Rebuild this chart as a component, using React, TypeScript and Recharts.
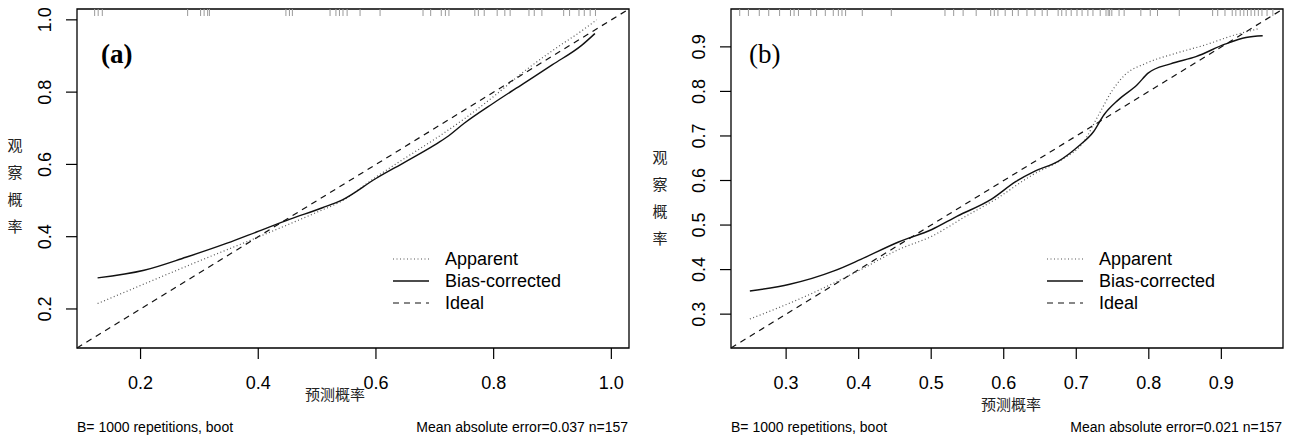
import React from "react";
import {
  ComposedChart,
  Line,
  Scatter,
  XAxis,
  YAxis,
  ReferenceLine,
  ReferenceArea
} from "recharts";

// =========================
// DATA
// =========================

// panel (a)
const aDomain = [0.092, 1.03];
const aTicks = [0.2, 0.4, 0.6, 0.8, 1.0];
const aApparentX = [0.127, 0.2, 0.3, 0.4, 0.45, 0.5, 0.54, 0.6, 0.65, 0.7, 0.75, 0.8, 0.85, 0.9, 0.95, 0.975];
const aApparentY = [0.215, 0.265, 0.333, 0.399, 0.433, 0.468, 0.497, 0.565, 0.618, 0.67, 0.726, 0.788, 0.855, 0.915, 0.97, 1.0];
const aBiasX = [0.127, 0.206, 0.277, 0.347, 0.397, 0.453, 0.509, 0.543, 0.6, 0.65, 0.7, 0.72, 0.75, 0.8, 0.85, 0.9, 0.95, 0.972];
const aBiasY = [0.286, 0.307, 0.343, 0.382, 0.413, 0.448, 0.48, 0.502, 0.561, 0.607, 0.654, 0.675, 0.714, 0.77, 0.823, 0.876, 0.93, 0.962];
const aRug = [
  0.122, 0.128, 0.135, 0.28, 0.302, 0.308, 0.314, 0.317, 0.447, 0.453, 0.458,
  0.522, 0.532, 0.538, 0.544, 0.551, 0.573, 0.607, 0.68, 0.693, 0.711, 0.718,
  0.724, 0.768, 0.774, 0.784, 0.806, 0.819, 0.828, 0.86, 0.869, 0.882, 0.919,
  0.929, 0.945, 0.954, 0.964, 0.973
];
const aNote = "Mean absolute error=0.037 n=157";

// panel (b)
const bDomain = [0.224, 0.985];
const bTicks = [0.3, 0.4, 0.5, 0.6, 0.7, 0.8, 0.9];
const bApparentX = [0.25, 0.328, 0.403, 0.455, 0.501, 0.548, 0.588, 0.64, 0.68, 0.709, 0.732, 0.75, 0.767, 0.796, 0.836, 0.877, 0.917, 0.952];
const bApparentY = [0.289, 0.341, 0.4, 0.445, 0.475, 0.52, 0.557, 0.613, 0.647, 0.684, 0.751, 0.803, 0.837, 0.863, 0.885, 0.904, 0.926, 0.941];
const bBiasX = [0.25, 0.305, 0.366, 0.403, 0.455, 0.501, 0.536, 0.582, 0.617, 0.643, 0.675, 0.703, 0.724, 0.738, 0.758, 0.784, 0.799, 0.83, 0.865, 0.905, 0.934, 0.957];
const bBiasY = [0.352, 0.367, 0.397, 0.423, 0.462, 0.49, 0.52, 0.557, 0.598, 0.621, 0.643, 0.677, 0.71, 0.747, 0.781, 0.815, 0.841, 0.862, 0.878, 0.906, 0.921, 0.925];
const bRug = [
  0.236, 0.248, 0.263, 0.276, 0.291, 0.306, 0.311, 0.317, 0.334, 0.342, 0.354,
  0.365, 0.372, 0.377, 0.382, 0.405, 0.445, 0.519, 0.531, 0.544, 0.562, 0.582,
  0.587, 0.592, 0.602, 0.612, 0.62, 0.632, 0.643, 0.653, 0.66, 0.675, 0.68,
  0.686, 0.693, 0.701, 0.708, 0.716, 0.723, 0.733, 0.741, 0.744, 0.746, 0.749,
  0.759, 0.766, 0.789, 0.802, 0.812, 0.842, 0.888, 0.895, 0.905, 0.915, 0.92,
  0.926, 0.931, 0.936, 0.941, 0.946, 0.951, 0.956, 0.963, 0.971
];
const bNote = "Mean absolute error=0.021 n=157";

const legendLabels = ["Apparent", "Bias-corrected", "Ideal"];
const yTitle = ["观", "察", "概", "率"];
const xTitle = "预测概率";
const bootNote = "B= 1000 repetitions, boot";

// =========================
// STYLE
// =========================

const FONT = '"Liberation Sans", Arial, Helvetica, sans-serif';
const CJK = '"Noto Sans CJK SC", sans-serif';
const SERIF = '"Liberation Serif", "Times New Roman", serif';
const H = 439;

const DOTTED = "1 2.5";
const DASHED = "6 5";

const zip = (xs: number[], ys: number[]) => xs.map((x, i) => ({ x, y: ys[i] }));

const XTick = (p: any) => (
  <text
    x={p.x}
    y={p.y + 24}
    textAnchor="middle"
    dominantBaseline="central"
    fontSize={18}
    fontFamily={FONT}
    fill="#000"
  >
    {Number(p.payload.value).toFixed(1)}
  </text>
);

const YTick = (p: any) => (
  <text
    x={p.x - 21}
    y={p.y}
    transform={`rotate(-90, ${p.x - 21}, ${p.y})`}
    textAnchor="middle"
    dominantBaseline="central"
    fontSize={18}
    fontFamily={FONT}
    fill="#000"
  >
    {Number(p.payload.value).toFixed(1)}
  </text>
);

const RugMark = (p: any) => (
  <line x1={p.cx} x2={p.cx} y1={p.cy} y2={p.cy + 7} stroke="#9a9a9a" strokeWidth={1} />
);

interface Layout {
  left: number;
  width: number;
  plotLeft: number;
  plotRight: number;
  legendX: number;
  label: string;
  labelX: number;
  labelBold: boolean;
  yTitleX: number;
  yTitleTop: number;
  xTitleX: number;
  xTitleY: number;
}

interface PanelProps {
  layout: Layout;
  domain: number[];
  ticks: number[];
  apparent: { x: number; y: number }[];
  bias: { x: number; y: number }[];
  rug: number[];
  note: string;
}

function Panel({ layout, domain, ticks, apparent, bias, rug, note }: PanelProps) {
  const [lo, hi] = domain;
  const rugData = rug.map((v) => ({ x: v, y: hi }));
  const L = layout;
  const legendRows = [259, 281, 303];
  const legendDash = [DOTTED, undefined, DASHED];
  const legendColor = ["#555", "#111", "#111"];

  return (
    <div style={{ position: "absolute", left: L.left, top: 0, width: L.width, height: H }}>
      <ComposedChart
        width={L.width}
        height={H}
        margin={{ top: 9, right: L.width - L.plotRight, bottom: 51, left: L.plotLeft - 60 }}
      >
        <XAxis
          type="number"
          dataKey="x"
          domain={domain}
          ticks={ticks}
          interval={0}
          allowDataOverflow
          axisLine={false}
          tickSize={11}
          tickMargin={0}
          tickLine={{ stroke: "#000", strokeWidth: 1.2 }}
          tick={XTick}
          height={40}
        />
        <YAxis
          type="number"
          dataKey="y"
          domain={domain}
          ticks={ticks}
          interval={0}
          allowDataOverflow
          axisLine={false}
          tickSize={11}
          tickMargin={0}
          tickLine={{ stroke: "#000", strokeWidth: 1.2 }}
          tick={YTick}
          width={60}
        />

        {/* frame */}
        <ReferenceArea
          x1={lo}
          x2={hi}
          y1={lo}
          y2={hi}
          fill="none"
          fillOpacity={0}
          stroke="#000"
          strokeWidth={1.3}
          ifOverflow="visible"
        />

        {/* y = x ideal */}
        <ReferenceLine
          segment={[
            { x: lo, y: lo },
            { x: hi, y: hi }
          ]}
          stroke="#111"
          strokeWidth={1.2}
          strokeDasharray={DASHED}
        />

        <Line
          data={apparent}
          dataKey="y"
          type="monotone"
          stroke="#555"
          strokeWidth={1.2}
          strokeDasharray={DOTTED}
          dot={false}
          activeDot={false}
          isAnimationActive={false}
        />
        <Line
          data={bias}
          dataKey="y"
          type="monotone"
          stroke="#111"
          strokeWidth={1.4}
          dot={false}
          activeDot={false}
          isAnimationActive={false}
        />

        {/* rug of predicted probabilities */}
        <Scatter data={rugData} dataKey="y" shape={RugMark} isAnimationActive={false} />
      </ComposedChart>

      <svg
        width={L.width}
        height={H}
        style={{ position: "absolute", left: 0, top: 0, pointerEvents: "none" }}
      >
        <text
          x={L.labelX}
          y={63}
          fontFamily={SERIF}
          fontSize={27}
          fontWeight={L.labelBold ? "bold" : "normal"}
          fill="#000"
        >
          {L.label}
        </text>

        {legendLabels.map((t, i) => (
          <g key={t}>
            <line
              x1={L.legendX}
              x2={L.legendX + 36}
              y1={legendRows[i]}
              y2={legendRows[i]}
              stroke={legendColor[i]}
              strokeWidth={i === 1 ? 1.4 : 1.2}
              strokeDasharray={legendDash[i]}
            />
            <text
              x={L.legendX + 52}
              y={legendRows[i]}
              dominantBaseline="central"
              fontFamily={FONT}
              fontSize={18}
              fill="#000"
            >
              {t}
            </text>
          </g>
        ))}

        {yTitle.map((c, i) => (
          <text
            key={c}
            x={L.yTitleX}
            y={L.yTitleTop + i * 27}
            textAnchor="middle"
            dominantBaseline="central"
            fontFamily={CJK}
            fontSize={15}
            fill="#222"
          >
            {c}
          </text>
        ))}

        <text
          x={L.xTitleX}
          y={L.xTitleY}
          textAnchor="middle"
          dominantBaseline="central"
          fontFamily={CJK}
          fontSize={15}
          fill="#222"
        >
          {xTitle}
        </text>

        <text x={L.plotLeft} y={427} dominantBaseline="central" fontFamily={FONT} fontSize={14} fill="#000">
          {bootNote}
        </text>
        <text
          x={L.plotRight - 1}
          y={427}
          textAnchor="end"
          dominantBaseline="central"
          fontFamily={FONT}
          fontSize={14}
          fill="#000"
        >
          {note}
        </text>
      </svg>
    </div>
  );
}

const layoutA: Layout = {
  left: 0,
  width: 650,
  plotLeft: 77,
  plotRight: 629,
  legendX: 393,
  label: "(a)",
  labelX: 101,
  labelBold: true,
  yTitleX: 15,
  yTitleTop: 144,
  xTitleX: 335,
  xTitleY: 393
};

const layoutB: Layout = {
  left: 650,
  width: 644,
  plotLeft: 81,
  plotRight: 633,
  legendX: 397,
  label: "(b)",
  labelX: 99,
  labelBold: false,
  yTitleX: 10,
  yTitleTop: 156,
  xTitleX: 361,
  xTitleY: 403
};

export default function App() {
  return (
    <div
      style={{
        position: "absolute",
        left: 0,
        top: 0,
        width: 1294,
        height: H,
        background: "#fff",
        overflow: "hidden"
      }}
    >
      <Panel
        layout={layoutA}
        domain={aDomain}
        ticks={aTicks}
        apparent={zip(aApparentX, aApparentY)}
        bias={zip(aBiasX, aBiasY)}
        rug={aRug}
        note={aNote}
      />
      <Panel
        layout={layoutB}
        domain={bDomain}
        ticks={bTicks}
        apparent={zip(bApparentX, bApparentY)}
        bias={zip(bBiasX, bBiasY)}
        rug={bRug}
        note={bNote}
      />
    </div>
  );
}
